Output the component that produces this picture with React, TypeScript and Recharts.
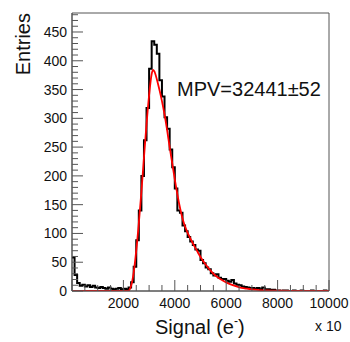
import { LineChart, Line, XAxis, YAxis, ReferenceArea } from "recharts";

// histogram: 100 bins of width 100 (axis unit is x10 e-)
const BIN_WIDTH = 100;
const histCounts = [
  58, 28, 14, 9, 11, 8, 10, 7, 9, 6,
  5, 7, 5, 4, 6, 4, 3, 4, 5, 3,
  4, 3, 6, 15, 42, 88, 140, 200, 262, 318,
  386, 434, 428, 412, 366, 338, 302, 282, 246, 215,
  178, 140, 136, 114, 104, 94, 86, 80, 72, 70,
  54, 48, 41, 38, 31, 27, 29, 23, 21, 21,
  18, 16, 19, 13, 11, 10, 8, 7, 6, 5,
  5, 4, 5, 3, 6, 3, 3, 2, 2, 1,
  1, 0, 1, 1, 0, 0, 1, 0, 0, 1,
  0, 0, 0, 1, 0, 0, 0, 0, 1, 0,
];

// fitted curve
const fitX = [
  0, 2100, 2200, 2300, 2400, 2500, 2600, 2700, 2800, 2900, 3000, 3100, 3150, 3200,
  3300, 3400, 3500, 3600, 3700, 3800, 3900, 4000, 4100, 4200, 4300, 4400, 4500,
  4600, 4700, 4800, 4900, 5000, 5200, 5400, 5600, 5800, 6000, 6200, 6400, 6600,
  6800, 7000, 7300, 7600, 8000, 8500, 9000, 10000,
];
const fitY = [
  0, 0, 0.5, 9, 32, 70, 118, 172, 232, 290, 340, 377, 384, 382,
  368, 350, 330, 307, 280, 250, 222, 194, 168, 145, 126, 112, 101,
  92, 83, 75, 67, 59, 46, 35, 26, 20, 15, 11, 8, 5.5,
  4, 2.8, 1.6, 0.9, 0.4, 0.15, 0.05, 0,
];

const xTicks = [
  0, 500, 1000, 1500, 2000, 2500, 3000, 3500, 4000, 4500, 5000,
  5500, 6000, 6500, 7000, 7500, 8000, 8500, 9000, 9500, 10000,
];
const xLabels = [2000, 4000, 6000, 8000, 10000];
const yTicks = [
  0, 10, 20, 30, 40, 50, 60, 70, 80, 90, 100, 110, 120, 130, 140, 150, 160,
  170, 180, 190, 200, 210, 220, 230, 240, 250, 260, 270, 280, 290, 300, 310,
  320, 330, 340, 350, 360, 370, 380, 390, 400, 410, 420, 430, 440, 450, 460,
  470, 480,
];
const yLabels = [0, 50, 100, 150, 200, 250, 300, 350, 400, 450];

const histData = [
  ...histCounts.map((c, i) => ({ x: i * BIN_WIDTH, y: c })),
  { x: histCounts.length * BIN_WIDTH, y: histCounts[histCounts.length - 1] },
];
const fitData = fitX.map((x, i) => ({ x, y: fitY[i] }));

const FONT = "'Liberation Sans', Arial, Helvetica, sans-serif";
const AXIS_COLOR = "#555";

function XTick(props: any) {
  const { x, y, payload } = props;
  const v = payload.value;
  const len = v % 2000 === 0 ? 11 : 6;
  return (
    <g>
      <line x1={x} x2={x} y1={y} y2={y - len} stroke={AXIS_COLOR} />
      {xLabels.includes(v) && (
        <text x={x} y={y + 17} textAnchor="middle" fontSize={14} fontFamily={FONT} fill="#111">
          {v}
        </text>
      )}
    </g>
  );
}

function YTick(props: any) {
  const { x, y, payload } = props;
  const v = payload.value;
  const len = v % 50 === 0 ? 11 : 6;
  return (
    <g>
      <line x1={x} x2={x + len} y1={y} y2={y} stroke={AXIS_COLOR} />
      {yLabels.includes(v) && (
        <text x={x - 5} y={y + 5} textAnchor="end" fontSize={14} fontFamily={FONT} fill="#111">
          {v}
        </text>
      )}
    </g>
  );
}

export default function App() {
  return (
    <div style={{ position: "absolute", left: 0, top: 0, width: 350, height: 342, background: "#fff" }}>
      <LineChart width={350} height={342} margin={{ top: 13, right: 21, bottom: 0, left: 0 }}>
        <XAxis
          dataKey="x"
          type="number"
          domain={[0, 10000]}
          ticks={xTicks}
          interval={0}
          height={51}
          tickLine={false}
          tickSize={0}
          tickMargin={0}
          tick={<XTick />}
          axisLine={{ stroke: AXIS_COLOR }}
          allowDataOverflow
        />
        <YAxis
          type="number"
          domain={[0, 483]}
          ticks={yTicks}
          interval={0}
          width={72}
          tickLine={false}
          tickSize={0}
          tickMargin={0}
          tick={<YTick />}
          axisLine={{ stroke: AXIS_COLOR }}
          allowDataOverflow
        />
        <ReferenceArea x1={0} x2={10000} y1={0} y2={483} fill="none" stroke={AXIS_COLOR} />
        <Line
          data={histData}
          dataKey="y"
          type="stepAfter"
          stroke="#000"
          strokeWidth={2}
          dot={false}
          isAnimationActive={false}
        />
        <Line
          data={fitData}
          dataKey="y"
          type="monotone"
          stroke="#ff0000"
          strokeWidth={1.8}
          dot={false}
          isAnimationActive={false}
        />
      </LineChart>
      <svg
        width={350}
        height={342}
        style={{ position: "absolute", left: 0, top: 0, pointerEvents: "none" }}
        fontFamily={FONT}
        fill="#111"
      >
        <text transform="translate(30,13) rotate(-90)" textAnchor="end" fontSize={20}>
          Entries
        </text>
        <text x={155} y={334} fontSize={20}>
          Signal (e
          <tspan fontSize={12} dy={-9}>-</tspan>
          <tspan dy={9}>)</tspan>
        </text>
        <text x={315} y={331} fontSize={14}>
          x 10
        </text>
        <text x={177} y={96} fontSize={20}>
          MPV=32441±52
        </text>
      </svg>
    </div>
  );
}
